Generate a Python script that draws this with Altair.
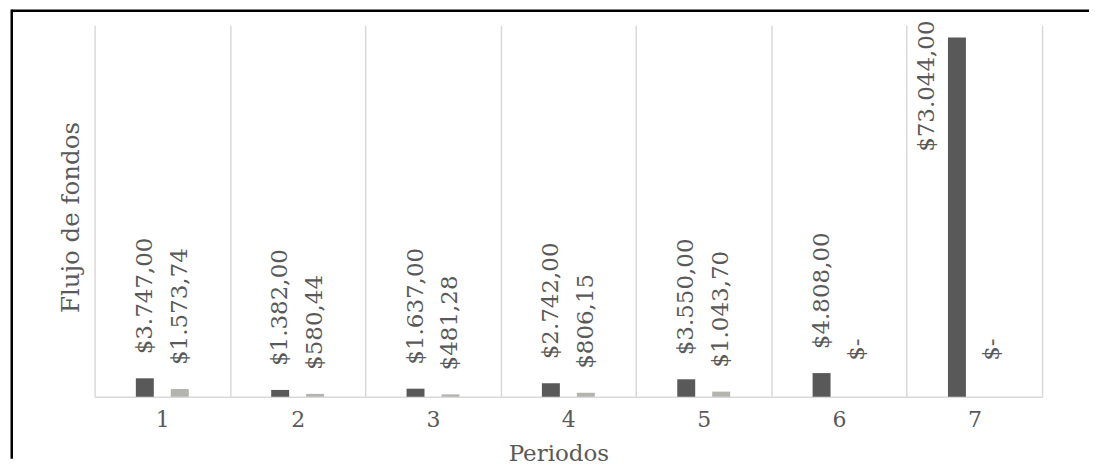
import altair as alt
import pandas as pd

periodos = ["1", "2", "3", "4", "5", "6", "7"]
serie_a = [3747.00, 1382.00, 1637.00, 2742.00, 3550.00, 4808.00, 73044.00]
serie_b = [1573.74, 580.44, 481.28, 806.15, 1043.70, 0.0, 0.0]
series = ["Serie 1", "Serie 2"]
colores = ["#595959", "#B4B4AE"]


def fmt(v):
    if v == 0:
        return "$-"
    s = f"{v:,.2f}"
    s = s.replace(",", "X").replace(".", ",").replace("X", ".")
    return "$" + s


rows = []
for p, a, b in zip(periodos, serie_a, serie_b):
    rows.append({"periodo": p, "serie": series[0], "valor": a, "etiqueta": fmt(a)})
    rows.append({"periodo": p, "serie": series[1], "valor": b, "etiqueta": fmt(b)})
df = pd.DataFrame(rows)

W, H = 949, 372
FONT = "DejaVu Serif"
GRAY = "#595959"

x = alt.X(
    "periodo:N", sort=periodos, title="Periodos",
    scale=alt.Scale(paddingInner=0, paddingOuter=0),
    axis=alt.Axis(
        labelAngle=0, ticks=False, grid=True, tickBand="extent",
        gridColor="#D9D9D9", gridWidth=1.5, domainColor="#D9D9D9", domainWidth=1.5,
        labelFont=FONT, labelFontSize=22, labelColor=GRAY, labelPadding=13,
        titleFont=FONT, titleFontSize=23, titleColor=GRAY,
        titleFontWeight="normal", titlePadding=12, titleX=W / 2 - 10,
    ),
)
# empty slots on either side keep the two bars narrow and close together
xo = alt.XOffset("serie:N",
                 scale=alt.Scale(domain=["_izq"] + series + ["_der"],
                                 paddingInner=0.486, paddingOuter=0.18))
y = alt.Y(
    "valor:Q", title="Flujo de fondos",
    scale=alt.Scale(domain=[0, 75500], nice=False),
    axis=alt.Axis(
        labels=False, ticks=False, domain=False, grid=False, minExtent=0,
        titlePadding=11, titleFont=FONT, titleFontSize=24.5, titleColor=GRAY,
        titleFontWeight="normal", titleY=H / 2 + 6,
    ),
)

base = alt.Chart(df)
bars = base.mark_bar().encode(
    x=x, xOffset=xo, y=y,
    color=alt.Color("serie:N", scale=alt.Scale(domain=series, range=colores), legend=None),
)
labels = base.transform_joinaggregate(maxv="max(valor)")
small = labels.transform_filter(
    "datum.valor > 0 && datum.valor < 0.8 * datum.maxv"
).mark_text(
    angle=270, align="left", baseline="middle", dx=24,
    font=FONT, fontSize=23, color=GRAY,
).encode(x=x, xOffset=xo, y=y, text="etiqueta:N")
zero = labels.transform_filter("datum.valor == 0").mark_text(
    angle=270, align="left", baseline="middle", dx=36,
    font=FONT, fontSize=23, color=GRAY,
).encode(x=x, xOffset=xo, y=y, text="etiqueta:N")
big = labels.transform_filter("datum.valor >= 0.8 * datum.maxv").mark_text(
    angle=270, align="right", baseline="middle", dx=17, dy=-30,
    font=FONT, fontSize=23, color=GRAY,
).encode(x=x, xOffset=xo, y=y, text="etiqueta:N")

frame_df = pd.DataFrame({"k": [0]})
frame_top = alt.Chart(frame_df).mark_rule(color="black", strokeWidth=2.5).encode(
    x=alt.value(-83), x2=alt.value(996), y=alt.value(-14.5)
)
frame_left = alt.Chart(frame_df).mark_rule(color="black", strokeWidth=2.5).encode(
    x=alt.value(-83), y=alt.value(-15.75), y2=alt.value(434)
)

chart = alt.layer(bars, small, zero, big, frame_top, frame_left).properties(
    width=W, height=H,
    padding={"left": 1.75, "top": 0, "right": 0, "bottom": 0},
).configure_view(stroke=None)

chart.save("out.html", embed_options={"renderer": "svg", "actions": False})
